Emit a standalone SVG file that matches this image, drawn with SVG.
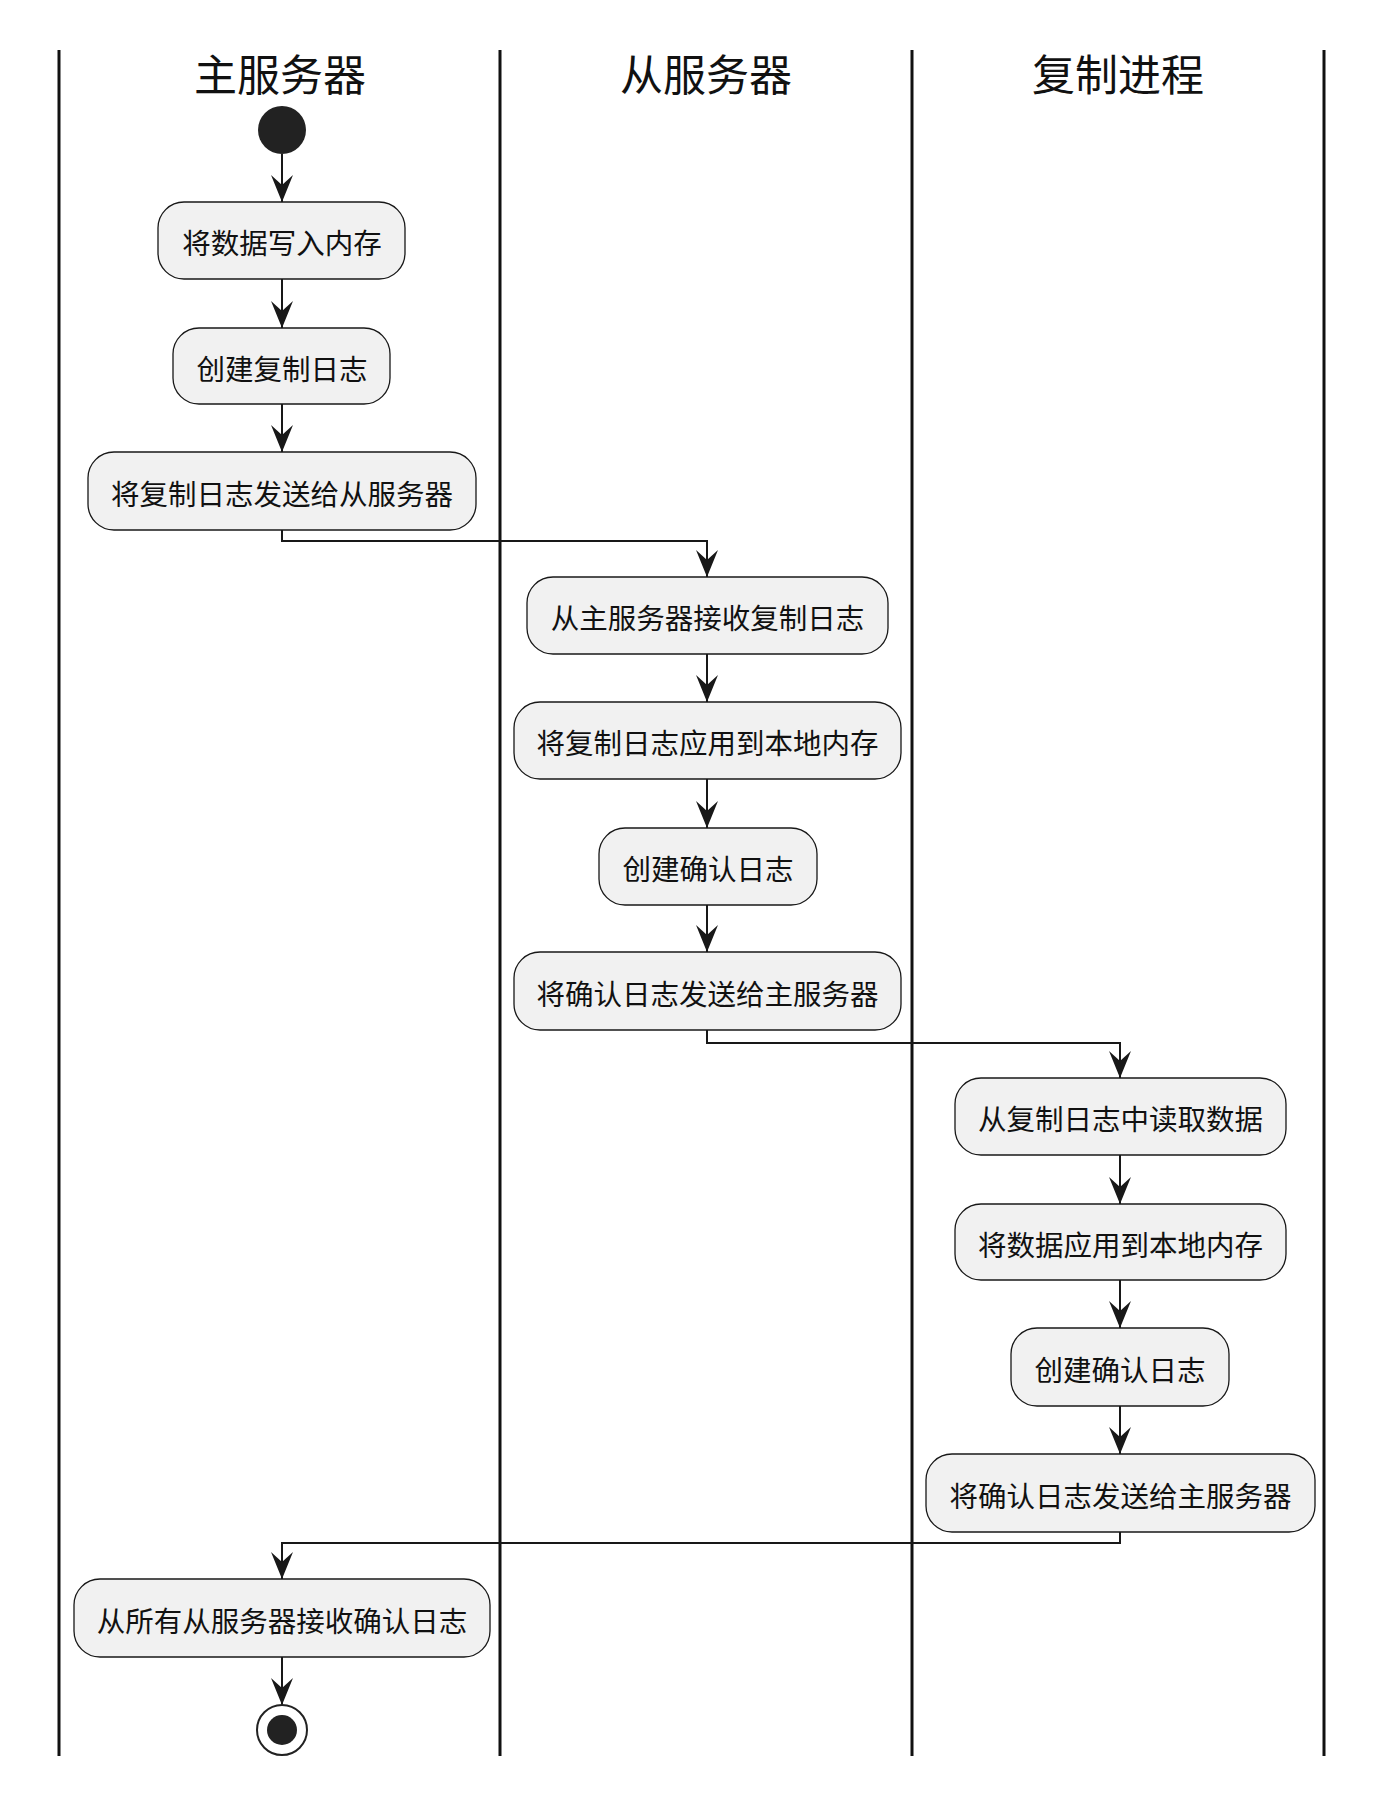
<svg xmlns="http://www.w3.org/2000/svg" width="1400" height="1810" viewBox="0 0 1400 1810">
<defs>
<style>
.lane{stroke:#111;stroke-width:3;fill:none}
.title{font-family:"Noto Sans CJK SC","Noto Sans",sans-serif;font-size:43px;fill:#111;text-anchor:middle}
.box{fill:#F1F1F1;stroke:#181818;stroke-width:1.3}
.lbl{font-family:"Noto Sans CJK SC","Noto Sans",sans-serif;font-size:28.5px;fill:#111;text-anchor:middle}
.edge{stroke:#181818;stroke-width:2;fill:none;marker-end:url(#arr)}
</style>
<marker id="arr" markerUnits="userSpaceOnUse" viewBox="-30 -13 32 26" refX="0" refY="0" markerWidth="32" markerHeight="26" orient="auto">
<path d="M0,0 L-27,-11 L-17,0 L-27,11 Z" fill="#181818"/>
</marker>
</defs>
<rect width="1400" height="1810" fill="#fff"/>
<g id="lanes">
<line class="lane" x1="59" y1="50" x2="59" y2="1756"/>
<line class="lane" x1="500" y1="50" x2="500" y2="1756"/>
<line class="lane" x1="912" y1="50" x2="912" y2="1756"/>
<line class="lane" x1="1324" y1="50" x2="1324" y2="1756"/>
<text class="title" x="280" y="91">主服务器</text>
<text class="title" x="706" y="91">从服务器</text>
<text class="title" x="1118" y="91">复制进程</text>
</g>
<g id="connectors">
<path class="edge" d="M282,154 L282,202"/>
<path class="edge" d="M282,279 L282,328"/>
<path class="edge" d="M282,404 L282,452"/>
<path class="edge" d="M282,530 L282,541 L707,541 L707,577"/>
<path class="edge" d="M707,654 L707,702"/>
<path class="edge" d="M707,779 L707,828"/>
<path class="edge" d="M707,905 L707,952"/>
<path class="edge" d="M707,1030 L707,1043 L1120,1043 L1120,1078"/>
<path class="edge" d="M1120,1155 L1120,1204"/>
<path class="edge" d="M1120,1280 L1120,1328"/>
<path class="edge" d="M1120,1406 L1120,1454"/>
<path class="edge" d="M1120,1532 L1120,1543 L282,1543 L282,1579"/>
<path class="edge" d="M282,1657 L282,1705"/>
</g>
<g id="start"><circle cx="282" cy="130" r="24" fill="#222"/></g>
<g id="n1"><rect class="box" x="158" y="202" width="247" height="77" rx="26"/><text class="lbl" x="282" y="254">将数据写入内存</text></g>
<g id="n2"><rect class="box" x="173" y="328" width="217" height="76" rx="26"/><text class="lbl" x="282" y="379.5">创建复制日志</text></g>
<g id="n3"><rect class="box" x="88" y="452" width="388" height="78" rx="26"/><text class="lbl" x="282" y="504.5">将复制日志发送给从服务器</text></g>
<g id="n4"><rect class="box" x="527" y="577" width="361" height="77" rx="26"/><text class="lbl" x="707.5" y="629">从主服务器接收复制日志</text></g>
<g id="n5"><rect class="box" x="514" y="702" width="387" height="77" rx="26"/><text class="lbl" x="707.5" y="754">将复制日志应用到本地内存</text></g>
<g id="n6"><rect class="box" x="599" y="828" width="218" height="77" rx="26"/><text class="lbl" x="708" y="880">创建确认日志</text></g>
<g id="n7"><rect class="box" x="514" y="952" width="387" height="78" rx="26"/><text class="lbl" x="707.5" y="1004.5">将确认日志发送给主服务器</text></g>
<g id="n8"><rect class="box" x="955" y="1078" width="331" height="77" rx="26"/><text class="lbl" x="1120.5" y="1130">从复制日志中读取数据</text></g>
<g id="n9"><rect class="box" x="955" y="1204" width="331" height="76" rx="26"/><text class="lbl" x="1120.5" y="1255.5">将数据应用到本地内存</text></g>
<g id="n10"><rect class="box" x="1011" y="1328" width="218" height="78" rx="26"/><text class="lbl" x="1120" y="1380.5">创建确认日志</text></g>
<g id="n11"><rect class="box" x="926" y="1454" width="389" height="78" rx="26"/><text class="lbl" x="1120.5" y="1506.5">将确认日志发送给主服务器</text></g>
<g id="n12"><rect class="box" x="74" y="1579" width="416" height="78" rx="26"/><text class="lbl" x="282" y="1631.5">从所有从服务器接收确认日志</text></g>
<g id="end"><circle cx="282" cy="1730" r="25" fill="#fff" stroke="#222" stroke-width="2"/><circle cx="282" cy="1730" r="15" fill="#222"/></g>
</svg>
